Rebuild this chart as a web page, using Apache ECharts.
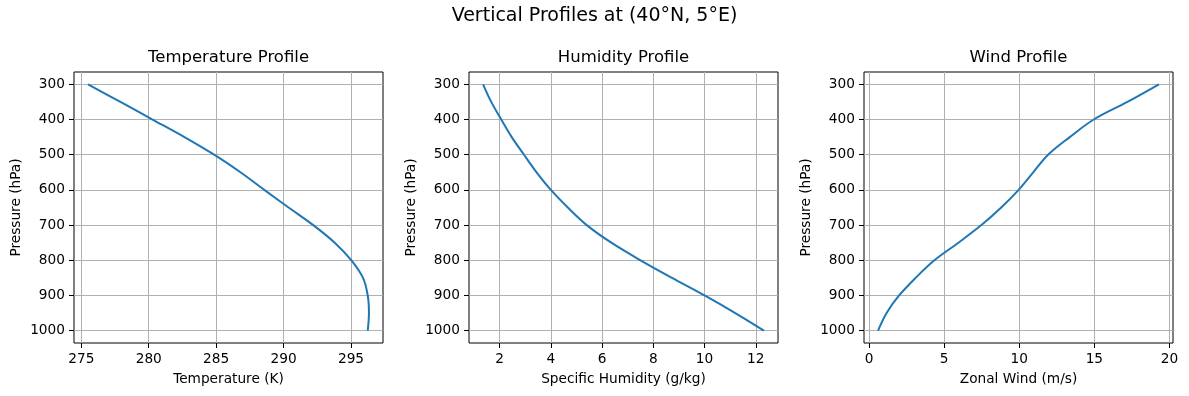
<!DOCTYPE html>
<html>
<head>
<meta charset="utf-8">
<script src="https://cdn.jsdelivr.net/npm/echarts@6/dist/echarts.min.js"></script>
<style>
  html, body { margin: 0; padding: 0; background: #fff; }
  #chart { width: 1189px; height: 396px; }
</style>
</head>
<body>
<div id="chart"></div>
<script>
// ---- data ----
const pressure = [300, 350, 400, 450, 500, 550, 600, 650, 700, 750, 800, 850, 900, 950, 1000];
const temperature = [275.5, 277.9, 280.28, 282.65, 284.85, 286.8, 288.57, 290.37, 292.2, 293.79, 295.03, 295.89, 296.24, 296.33, 296.24];
const humidity = [1.35, 1.67, 2.06, 2.47, 2.95, 3.44, 4.0, 4.66, 5.4, 6.36, 7.5, 8.73, 10.0, 11.2, 12.32];
const wind = [19.3, 17.2, 14.96, 13.36, 11.92, 10.93, 9.96, 8.8, 7.48, 5.95, 4.35, 3.1, 2.0, 1.17, 0.6];

const pressureTicks = [300, 400, 500, 600, 700, 800, 900, 1000];
const tempTicks = [275, 280, 285, 290, 295];
const humTicks = [2, 4, 6, 8, 10, 12];
const windTicks = [0, 5, 10, 15, 20];

const suptitle = 'Vertical Profiles at (40°N, 5°E)';
const panelTitles = ['Temperature Profile', 'Humidity Profile', 'Wind Profile'];
const xNames = ['Temperature (K)', 'Specific Humidity (g/kg)', 'Zonal Wind (m/s)'];
const yName = 'Pressure (hPa)';

// ---- build chart ----
const FONT = 'DejaVu Sans';
const panels = [
  { x: temperature, ticks: tempTicks },
  { x: humidity, ticks: humTicks },
  { x: wind, ticks: windTicks }
];
const gridLefts = [74, 469, 864];
const GRID_TOP = 72, GRID_W = 309, GRID_H = 271;

function padRange(arr) {
  const lo = Math.min(...arr), hi = Math.max(...arr);
  const m = (hi - lo) * 0.05;
  return [lo - m, hi + m];
}
const pRange = padRange(pressure);
const plain = v => String(v);

const grids = [], xAxes = [], yAxes = [], series = [];
const titles = [{
  text: suptitle, left: 'center', top: 7, padding: 0,
  textStyle: { fontFamily: FONT, fontSize: 19, fontWeight: 'normal', color: '#000' }
}];

panels.forEach((pn, i) => {
  grids.push({
    left: gridLefts[i], top: GRID_TOP, width: GRID_W, height: GRID_H,
    show: true, borderColor: '#000', borderWidth: 1, backgroundColor: 'transparent'
  });
  titles.push({
    text: panelTitles[i], left: gridLefts[i] + GRID_W / 2, top: 49, padding: 0,
    textAlign: 'center',
    textStyle: { fontFamily: FONT, fontSize: 16.5, fontWeight: 'normal', color: '#000' }
  });
  const xr = padRange(pn.x);
  xAxes.push({
    gridIndex: i, type: 'value', min: xr[0], max: xr[1],
    axisLine: { show: false, onZero: false },
    axisTick: { show: true, inside: false, length: 5, lineStyle: { color: '#000', width: 1 }, customValues: pn.ticks },
    axisLabel: { customValues: pn.ticks, formatter: plain, color: '#000', fontSize: 13.7, fontFamily: FONT, margin: 9 },
    splitLine: { show: true, lineStyle: { color: '#b0b0b0', width: 1 } },
    name: xNames[i], nameLocation: 'middle', nameGap: 29,
    nameTextStyle: { fontFamily: FONT, fontSize: 13.7, color: '#000' }
  });
  yAxes.push({
    gridIndex: i, type: 'value', inverse: true, min: pRange[0], max: pRange[1],
    axisLine: { show: false, onZero: false },
    axisTick: { show: true, inside: false, length: 5, lineStyle: { color: '#000', width: 1 }, customValues: pressureTicks },
    axisLabel: { customValues: pressureTicks, formatter: plain, color: '#000', fontSize: 13.7, fontFamily: FONT, margin: 9 },
    splitLine: { show: true, lineStyle: { color: '#b0b0b0', width: 1 } },
    name: yName, nameLocation: 'middle', nameGap: 51,
    nameTextStyle: { fontFamily: FONT, fontSize: 13.7, color: '#000' }
  });
  series.push({
    type: 'line', xAxisIndex: i, yAxisIndex: i,
    data: pressure.map((p, k) => [pn.x[k], p]),
    showSymbol: false, smooth: 0.35,
    lineStyle: { color: '#1f77b4', width: 2 },
    itemStyle: { color: '#1f77b4' }
  });
});

const chart = echarts.init(document.getElementById('chart'), null, { renderer: 'canvas' });
chart.setOption({
  animation: false,
  backgroundColor: '#fff',
  title: titles,
  grid: grids,
  xAxis: xAxes,
  yAxis: yAxes,
  series: series
});
</script>
</body>
</html>
